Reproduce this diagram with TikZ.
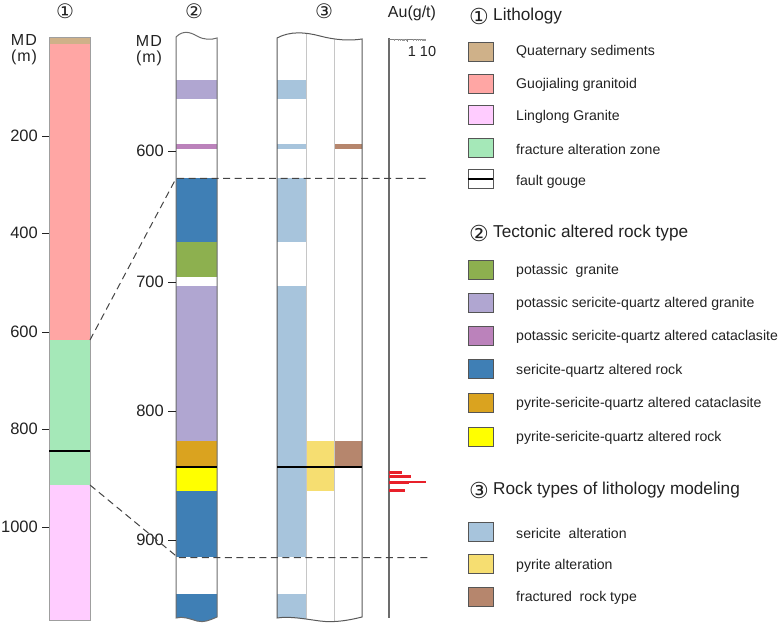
\documentclass[tikz,border=0pt]{standalone}
\usepackage{fontspec}
\setmainfont{Liberation Sans}
\newfontfamily\circfont{DejaVu Sans}
\definecolor{qs}{HTML}{CFB189}
\definecolor{gj}{HTML}{FFA6A4}
\definecolor{ll}{HTML}{FFCCFF}
\definecolor{fz}{HTML}{A5E8B8}
\definecolor{kg}{HTML}{8DB04F}
\definecolor{kp}{HTML}{B0A6D1}
\definecolor{kc}{HTML}{BB82BB}
\definecolor{sq}{HTML}{3F7FB5}
\definecolor{po}{HTML}{DAA31F}
\definecolor{py}{HTML}{FFFF00}
\definecolor{se}{HTML}{A7C4DC}
\definecolor{pa}{HTML}{F6DE71}
\definecolor{fr}{HTML}{B6866D}
\definecolor{txt}{HTML}{222222}
\definecolor{swb}{HTML}{555555}
\definecolor{dash}{HTML}{444444}
\definecolor{aured}{HTML}{E8202A}
\begin{document}
\begin{tikzpicture}[x=1pt,y=-1pt,
  swatch/.style={draw=swb, line width=0.9pt, minimum width=25pt, minimum height=19pt, inner sep=0pt},
  lab/.style={anchor=west, font=\fontsize{14.1}{16}\selectfont, inner sep=0pt, text=txt},
  ttl/.style={anchor=west, font=\fontsize{17.2}{20}\selectfont, inner sep=0pt, text=txt},
  num/.style={font=\circfont\fontsize{20}{22}\selectfont, inner sep=0pt, text=txt},
  lnum/.style={font=\circfont\fontsize{22}{25}\selectfont, inner sep=0pt, text=txt},
  ticklab/.style={anchor=east, font=\fontsize{16.5}{19}\selectfont, inner sep=0pt, text=txt},
  mdlab/.style={font=\fontsize{16}{19}\selectfont, inner sep=0pt, text=txt, align=center},
  tickmark/.style={draw=txt, line width=0.7pt},
  gouge/.style={draw=black, line width=1.8pt},
  divider/.style={draw=gray!45, line width=1pt},
  connector/.style={draw=dash, line width=1pt, dash pattern=on 7pt off 4.5pt},
  redbar/.style={draw=aured, line width=3pt},
]
\useasboundingbox (0,0) rectangle (782,623);

% ---------- column 1 ----------
\fill[qs] (49,37) rectangle (90,44);
\fill[gj] (49,44) rectangle (90,340);
\fill[fz] (49,340) rectangle (90,485);
\fill[ll] (49,485) rectangle (90,620);
\draw[gray!75, line width=0.9pt] (49,37) rectangle (90,620);
\draw[gouge] (49,451) -- (90,451);
\node[num] (h1) at (65,11) {①};
\node[mdlab] (md1) at (24,40) {M\kern1.2pt D};
\node[mdlab] (mu1) at (24,57) {(\kern1pt m\kern1pt)};
\foreach \d/\y in {200/136,400/233,600/332,800/429,1000/527}{
  \draw[tickmark] (42,\y) -- (49,\y);
  \node[ticklab] at (38,\y) {\d};
}

% ---------- column 2 ----------
\begin{scope}
\clip (176,37) .. controls (183,30) and (190,32) .. (197,36) .. controls (204,40) and (211,40) .. (217,38) -- (217,617) .. controls (210,620) and (204,623) .. (197,621) .. controls (190,619) and (183,616) .. (176,618) -- cycle;
\fill[kp] (170,80) rectangle (220,99);
\fill[kc] (170,144) rectangle (220,149);
\fill[sq] (170,178) rectangle (220,242);
\fill[kg] (170,242) rectangle (220,277);
\fill[kp] (170,286) rectangle (220,441);
\fill[po] (170,441) rectangle (220,467);
\fill[py] (170,467) rectangle (220,491);
\fill[sq] (170,491) rectangle (220,557);
\fill[sq] (170,594) rectangle (220,630);
\end{scope}
\draw[gray!85!black, line width=1pt] (176,37) .. controls (183,30) and (190,32) .. (197,36) .. controls (204,40) and (211,40) .. (217,38) -- (217,617) .. controls (210,620) and (204,623) .. (197,621) .. controls (190,619) and (183,616) .. (176,618) -- cycle;
\draw[gouge] (176,467) -- (217,467);
\node[num] (h2) at (194,11) {②};
\node[mdlab] (md2) at (149,41) {M\kern1.2pt D};
\node[mdlab] (mu2) at (149,58) {(\kern1pt m\kern1pt)};
\foreach \d/\y in {600/151,700/282,800/411,900/540}{
  \draw[tickmark] (168,\y) -- (176,\y);
  \node[ticklab] at (164,\y) {\d};
}

% ---------- column 3 ----------
\begin{scope}
\clip (277,38) .. controls (290,31) and (305,32) .. (320,36) .. controls (335,40) and (350,41) .. (362,39) -- (362,617) .. controls (350,620) and (335,623) .. (320,621) .. controls (305,619) and (290,616) .. (277,618) -- cycle;
\fill[se] (270,80) rectangle (306,99);
\fill[se] (270,144) rectangle (306,149);
\fill[se] (270,178) rectangle (306,242);
\fill[se] (270,286) rectangle (306,557);
\fill[se] (270,594) rectangle (306,630);
\fill[pa] (306,441) rectangle (334,491);
\fill[fr] (334,144) rectangle (370,149);
\fill[fr] (334,441) rectangle (370,467);
\draw[divider] (306,25) -- (306,630);
\draw[divider] (334,25) -- (334,630);
\end{scope}
\draw[gray!70!black, line width=1pt] (277,38) .. controls (290,31) and (305,32) .. (320,36) .. controls (335,40) and (350,41) .. (362,39) -- (362,617) .. controls (350,620) and (335,623) .. (320,621) .. controls (305,619) and (290,616) .. (277,618) -- cycle;
\draw[gouge] (277,467) -- (362,467);
\node[num] (h3) at (324,11) {③};

% ---------- Au column ----------
\draw[gray!85!black, line width=1.2pt] (389,38) -- (389,618);
\draw[gray, line width=0.6pt] (389,39) -- (426,39);
\foreach \a in {389,407.5}{
  \foreach \k in {0.301,0.477,0.602,0.699,0.778,0.845,0.903,0.954}{
    \draw[gray!80, line width=0.4pt] ({\a+18.5*\k},39) -- ({\a+18.5*\k},41.5);
  }
}
\draw[gray, line width=0.5pt] (407.5,39) -- (407.5,42);
\node[font=\fontsize{16}{19}\selectfont, text=txt, inner sep=0pt] (au) at (412,13) {Au(g/t)};
\node[font=\fontsize{14.5}{17}\selectfont, text=txt, inner sep=0pt] (scl) at (422,52) {1 10};
\draw[redbar] (389,472) -- (402,472);
\draw[redbar] (389,476.5) -- (411,476.5);
\draw[redbar] (389,482) -- (409,482);
\draw[aured, line width=1.4pt] (409,482) -- (426,482);
\draw[redbar] (389,490) -- (405,490);

% ---------- dashed connectors ----------
\coordinate (c1a) at (90,340);
\coordinate (c2a) at (176,178.5);
\coordinate (ea) at (430,178.5);
\coordinate (c1b) at (90,485);
\coordinate (c2b) at (178,557.5);
\coordinate (eb) at (430,557.5);
\draw[connector] (c1a) -- (c2a) -- (ea);
\draw[connector] (c1b) -- (c2b) -- (eb);

% ---------- legend ----------
\node[lnum] (l1n) at (479,16) {①};
\node[ttl] (l1t) at (493,16) {Lithology};
\node[swatch, fill=qs] (s11) at (480.5,51.5) {};
\node[lab] (t11) at (516,52) {Quaternary sediments};
\node[swatch, fill=gj] (s12) at (480.5,83.5) {};
\node[lab] (t12) at (516,85) {Guojialing granitoid};
\node[swatch, fill=ll] (s13) at (480.5,115) {};
\node[lab] (t13) at (516,117) {Linglong Granite};
\node[swatch, fill=fz] (s14) at (480.5,147.5) {};
\node[lab] (t14) at (516,149) {fracture alteration zone};
\node[swatch, fill=white] (s15) at (480.5,179) {};
\draw[black, line width=1.6pt] (s15.west) -- (s15.east);
\node[lab] (t15) at (516,182) {fault gouge};

\node[lnum] (l2n) at (479,233) {②};
\node[ttl] (l2t) at (493,233) {Tectonic altered rock type};
\node[swatch, fill=kg] (s21) at (480.5,269.5) {};
\node[lab] (t21) at (516,271) {potassic\ \ granite};
\node[swatch, fill=kp] (s22) at (480.5,302.5) {};
\node[lab] (t22) at (516,304) {potassic sericite-quartz altered granite};
\node[swatch, fill=kc] (s23) at (480.5,335.5) {};
\node[lab] (t23) at (516,337) {potassic sericite-quartz altered cataclasite};
\node[swatch, fill=sq] (s24) at (480.5,369) {};
\node[lab] (t24) at (516,371) {sericite-quartz altered rock};
\node[swatch, fill=po] (s25) at (480.5,402.5) {};
\node[lab] (t25) at (516,404) {pyrite-sericite-quartz altered cataclasite};
\node[swatch, fill=py] (s26) at (480.5,436.5) {};
\node[lab] (t26) at (516,438) {pyrite-sericite-quartz altered rock};

\node[lnum] (l3n) at (479,490) {③};
\node[ttl] (l3t) at (493,490) {Rock types of lithology modeling};
\node[swatch, fill=se] (s31) at (480.5,531.5) {};
\node[lab] (t31) at (516,533) {sericite\ \ alteration};
\node[swatch, fill=pa] (s32) at (480.5,563.5) {};
\node[lab] (t32) at (516,566) {pyrite alteration};
\node[swatch, fill=fr] (s33) at (480.5,596.5) {};
\node[lab] (t33) at (516,598) {fractured\ \ rock type};
\end{tikzpicture}
\end{document}
